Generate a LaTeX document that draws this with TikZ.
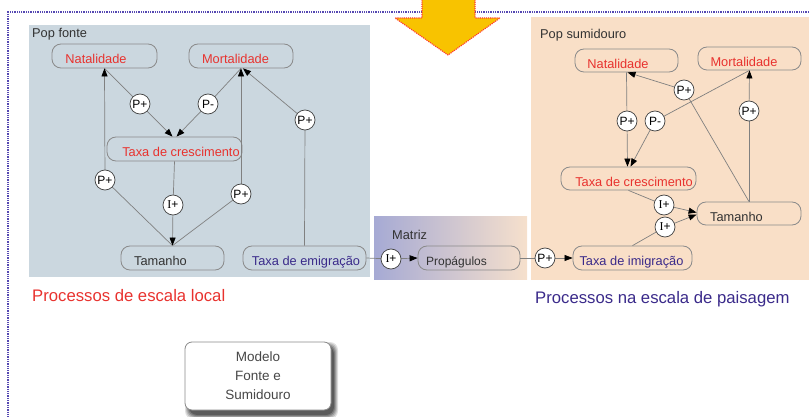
\documentclass[tikz,border=0pt]{standalone}
\usepackage{fontspec}
\setmainfont{Liberation Sans}
\newfontfamily\serifI{Liberation Serif}
\usetikzlibrary{arrows.meta,calc}
\definecolor{leftbg}{RGB}{203,215,223}
\definecolor{rightbg}{RGB}{249,223,199}
\definecolor{matL}{RGB}{166,170,212}
\definecolor{matR}{RGB}{246,224,204}
\definecolor{txtred}{RGB}{232,50,46}
\definecolor{txtpur}{RGB}{58,42,138}
\definecolor{txtgray}{RGB}{50,50,50}
\definecolor{linegray}{RGB}{128,128,128}
\definecolor{boxgray}{RGB}{138,138,138}
\definecolor{arrowyel}{RGB}{248,195,0}
\definecolor{borderpur}{RGB}{85,72,178}
\newcommand\shtxt[2]{\makebox[0pt]{\hspace*{#1}#2}}
\newcommand\Ip{{\serifI I}+}
\begin{document}
\begin{tikzpicture}[x=1pt,y=-1pt,
  every node/.style={font=\fontsize{12.8}{15}\selectfont},
  varbox/.style={draw=boxgray, line width=0.8pt, rounded corners=9pt,
    minimum height=24pt, inner sep=0pt, text height=15.6pt, text depth=0pt},
  redtxt/.style={text=txtred},
  purtxt/.style={text=txtpur},
  graytxt/.style={text=txtgray},
  infl/.style={circle, draw=black!75, line width=0.7pt, fill=white,
    minimum size=20pt, inner sep=0pt, font=\fontsize{12}{12}\selectfont},
  conn/.style={draw=linegray, line width=0.7pt},
  arr/.style={-{Triangle[length=8pt,width=6pt,color=black]}},
  plabel/.style={anchor=base west, inner sep=0pt, text=txtgray},
  biglabel/.style={anchor=base west, inner sep=0pt, font=\fontsize{16.7}{20}\selectfont}
]
\useasboundingbox (0,0) rectangle (809,417);
% panels
\fill[leftbg] (29,25) rectangle (370,277);
\fill[rightbg] (531,17) rectangle (809,280);
\shade[left color=matL, right color=matR] (374,216) rectangle (527,279);
% dotted frame
\draw[borderpur, line width=1.3pt, dash pattern=on 1.3pt off 1pt] (809,12) -- (8,12) -- (8,417);
% yellow arrow
\draw[red!80!white, line width=1.1pt, dash pattern=on 1.1pt off 1pt, fill=arrowyel]
  (422,-2) -- (475,-2) -- (475,18) -- (500,18) -- (448,55) -- (395,18) -- (422,18) -- cycle;
% panel labels
\node[plabel] (popf) at (32,38) {Pop fonte};
\node[plabel] (pops) at (540,39) {Pop sumidouro};
\node[plabel] (matr) at (392,239.5) {Matriz};
% left boxes
\node[varbox, minimum width=105pt, redtxt] (nat) at (104.5,56) {\shtxt{-17pt}{Natalidade}};
\node[varbox, minimum width=104pt, redtxt] (mort) at (241,56) {\shtxt{-11pt}{Mortalidade}};
\node[varbox, minimum width=135pt, redtxt] (taxa) at (174.5,149) {\shtxt{13pt}{Taxa de crescimento}};
\node[varbox, minimum width=103pt, graytxt] (tam) at (172.5,258) {\shtxt{-24pt}{Tamanho}};
\node[varbox, minimum width=123pt, purtxt] (emig) at (304.5,258) {\shtxt{3pt}{Taxa de emigração}};
% matrix box
\node[varbox, minimum width=102pt, graytxt, font=\fontsize{12}{14}\selectfont] (prop) at (469,258) {\shtxt{-25pt}{Propágulos}};
% right boxes
\node[varbox, minimum width=119pt, purtxt] (imig) at (632.5,258) {\shtxt{-2pt}{Taxa de imigração}};
\node[varbox, minimum width=103pt, minimum height=23pt, redtxt] (natR) at (626.5,60.5) {\shtxt{-17pt}{Natalidade}};
\node[varbox, minimum width=103pt, minimum height=23pt, redtxt] (mortR) at (749.5,58.5) {\shtxt{-11pt}{Mortalidade}};
\node[varbox, minimum width=135pt, minimum height=23pt, redtxt] (taxaR) at (628.5,178.5) {\shtxt{11pt}{Taxa de crescimento}};
\node[varbox, minimum width=104pt, minimum height=23pt, graytxt] (tamR) at (749,213.5) {\shtxt{-25pt}{Tamanho}};
% influence circle positions
\coordinate (c1) at (140,104);
\coordinate (c2) at (208,104);
\coordinate (c3) at (105,180);
\coordinate (c4) at (173,205);
\coordinate (c5) at (241,194);
\coordinate (c6) at (305,120);
\coordinate (i1) at (391,259);
\coordinate (p1) at (545,258);
\coordinate (r1) at (684,90);
\coordinate (r2) at (627,121);
\coordinate (r3) at (655,121);
\coordinate (r4) at (749,111);
\coordinate (r5) at (664,205);
\coordinate (r6) at (665,227);
% left connectors
\draw[conn] (nat.south) -- (c1);
\draw[conn,arr] (c1) -- ($(taxa.north)+(-2,0)$);
\draw[conn] (mort.south) -- (c2);
\draw[conn,arr] (c2) -- ($(taxa.north)+(2,0)$);
\draw[conn] (tam.north) -- (c3);
\draw[conn,arr] (c3) -- (nat.south);
\draw[conn] (taxa.south) -- (c4);
\draw[conn,arr] (c4) -- (tam.north);
\draw[conn] (tam.north) -- (c5);
\draw[conn,arr] (c5) -- (mort.south);
\draw[conn] (emig.north) -- (c6);
\draw[conn,arr] (c6) -- ($(mort.south)+(2,0)$);
% middle connectors
\draw[conn] (emig.east) -- (i1);
\draw[conn,arr] (i1) -- (prop.west);
\draw[conn] (prop.east) -- (p1);
\draw[conn,arr] (p1) -- (imig.west);
% right connectors
\draw[conn] (tamR.north) -- (r1);
\draw[conn,arr] (r1) -- ($(natR.south)+(1,0)$);
\draw[conn] (natR.south) -- (r2);
\draw[conn,arr] (r2) -- ($(taxaR.north)+(-1,0)$);
\draw[conn] (mortR.south) -- (r3);
\draw[conn,arr] (r3) -- ($(taxaR.north)+(2,0)$);
\draw[conn] (tamR.north) -- (r4);
\draw[conn,arr] (r4) -- (mortR.south);
\draw[conn] (taxaR.south) -- (r5);
\draw[conn,arr] (r5) -- ($(tamR.west)+(0,-1)$);
\draw[conn] (imig.north) -- (r6);
\draw[conn,arr] (r6) -- ($(tamR.west)+(0,1)$);
% influence circles on top
\foreach \n/\t in {c1/P+,c2/P-,c3/P+,c5/P+,c6/P+,p1/P+,r1/P+,r2/P+,r3/P-,r4/P+}
  \node[infl] (n\n) at (\n) {\t};
\foreach \n in {c4,i1,r5,r6}
  \node[infl] (n\n) at (\n) {\Ip};
% big labels
\node[biglabel, text=txtred] (loc) at (32,301) {Processos de escala local};
\node[biglabel, text=txtpur] (pais) at (535,303) {Processos na escala de paisagem};
% model box shadow (soft)
\foreach \s/\o in {4/0.12,3/0.15,2/0.18,1/0.22,0/0.26}
  \fill[black, opacity=\o, rounded corners=8pt]
    (185+4-\s,342+4-\s) rectangle (331+3+\s,410+5+\s);
% model box
\node[draw=boxgray, line width=0.8pt, fill=white, rounded corners=7pt,
  minimum width=146pt, minimum height=68pt, align=center, text=black!72,
  font=\fontsize{13.5}{19}\selectfont]
  (modelo) at (258,376) {Modelo\\Fonte e\\Sumidouro};
\end{tikzpicture}
\end{document}
